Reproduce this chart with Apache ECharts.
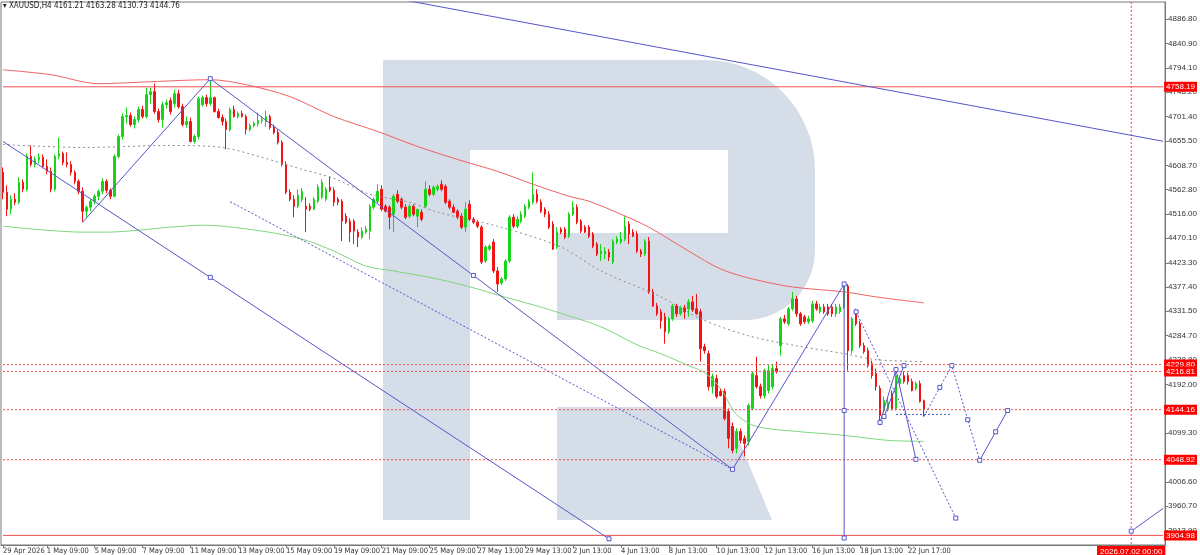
<!DOCTYPE html>
<html><head><meta charset="utf-8">
<script src="https://cdn.jsdelivr.net/npm/echarts@6/dist/echarts.min.js"></script>
<style>html,body{margin:0;padding:0;background:#fff}#c{width:1200px;height:555px}</style>
</head><body><div id="c"></div>
<script>
const symbolName = "XAUUSD,H4";
const tradingDays = ["29 Apr","30 Apr","1 May","4 May","5 May","6 May","7 May","8 May","11 May","12 May","13 May","14 May","15 May","18 May","19 May","20 May","21 May","22 May","25 May","26 May","27 May","28 May","29 May","1 Jun","2 Jun","3 Jun","4 Jun","5 Jun","8 Jun","9 Jun","10 Jun","11 Jun","12 Jun","15 Jun","16 Jun","17 Jun","18 Jun","19 Jun","22 Jun","23 Jun","24 Jun","25 Jun","26 Jun","29 Jun","30 Jun","1 Jul","2 Jul","3 Jul","6 Jul","7 Jul"];
const barHours = ["01:00","05:00","09:00","13:00","17:00","21:00"];
const shortDays = {"29 Apr":["13:00","17:00","21:00"],"25 May":["01:00","05:00","09:00","13:00","17:00"],"19 Jun":["01:00","05:00","09:00","13:00","17:00"]};
const totalSlots = 292;
const firstLabel = "29 Apr 2026";
const xTickLabels = ["1 May 09:00","5 May 09:00","7 May 09:00","11 May 09:00","13 May 09:00","15 May 09:00","19 May 09:00","21 May 09:00","25 May 09:00","27 May 13:00","29 May 13:00","2 Jun 13:00","4 Jun 13:00","8 Jun 13:00","10 Jun 13:00","12 Jun 13:00","16 Jun 13:00","18 Jun 13:00","22 Jun 17:00"];
const priceTicks = [4886.80,4840.90,4794.10,4748.20,4701.40,4655.50,4608.70,4562.80,4516.00,4470.10,4423.30,4377.40,4331.50,4284.70,4238.80,4192.00,4146.10,4099.30,4053.40,4006.60,3960.70,3913.90];
const yMin = 3886.7, yMax = 4919.5;

const opens = [4595.5,4557.6,4525.4,4544.3,4538.6,4576.5,4563.3,4625.8,4610.6,4620.1,
4623.9,4606.8,4597.4,4563.3,4625.8,4631.5,4614.4,4610.6,4595.5,4578.4,
4559.5,4521.6,4529.1,4540.5,4550.0,4559.5,4578.4,4561.4,4550.0,4625.8,
4663.7,4701.6,4703.5,4686.4,4695.9,4714.9,4701.6,4743.3,4749.0,4711.1,
4695.9,4724.3,4731.9,4726.2,4745.2,4720.5,4686.4,4692.1,4654.2,4663.7,
4724.3,4737.6,4726.2,4737.6,4711.1,4699.7,4692.1,4677.0,4714.9,4701.6,
4707.3,4701.6,4677.0,4684.5,4688.3,4694.0,4692.1,4701.6,4680.7,4671.3,
4652.3,4610.6,4557.6,4544.3,4531.0,4544.3,4531.0,4531.0,4525.4,4540.5,
4548.1,4544.3,4567.0,4561.4,4544.3,4540.5,4512.1,4502.6,4502.6,4481.8,
4472.3,4481.8,4483.7,4529.1,4540.5,4563.3,4531.0,4529.1,4515.9,4553.8,
4544.3,4529.1,4512.1,4531.0,4512.1,4519.7,4531.0,4563.3,4553.8,4563.3,
4572.7,4568.9,4540.5,4529.1,4521.6,4512.1,4491.2,4534.8,4506.4,4500.7,
4491.2,4426.8,4449.6,4462.8,4407.9,4385.1,4392.7,4426.8,4510.2,4493.1,
4502.6,4512.1,4529.1,4538.6,4553.8,4538.6,4525.4,4515.9,4496.9,4453.3,
4487.5,4487.5,4474.2,4515.9,4529.1,4502.6,4491.2,4491.2,4478.0,4459.0,
4440.1,4440.1,4443.9,4424.9,4462.8,4462.8,4468.5,4496.9,4481.8,4478.0,
4445.8,4440.1,4464.7,4368.1,4341.5,4330.2,4320.7,4292.3,4316.9,4341.5,
4326.4,4337.7,4335.9,4349.1,4335.9,4330.2,4263.8,4250.6,4188.0,4203.2,
4178.6,4178.6,4140.7,4112.2,4070.6,4102.8,4089.5,4083.8,4146.4,4208.9,
4188.0,4171.0,4180.5,4188.0,4222.2,4265.7,4316.9,4307.4,4335.9,4354.8,
4326.4,4320.7,4311.2,4313.1,4345.3,4330.2,4339.6,4339.6,4339.6,4326.4,
4330.2,4339.6,4379.4,4256.3,4330.2,4307.4,4265.7,4256.3,4231.6,4212.7,
4184.3,4142.6,4146.4,4174.8,4146.4,4193.7,4208.9,4208.9,4197.5,4184.3,
4193.7,4161.21];
const highs = [4604.9,4570.8,4551.9,4555.7,4586.0,4582.2,4631.5,4646.6,4625.8,4631.5,
4629.6,4620.1,4604.9,4629.6,4661.8,4635.3,4633.4,4616.3,4599.3,4582.2,
4567.0,4532.9,4544.3,4553.8,4563.3,4584.1,4582.2,4565.1,4629.6,4667.5,
4707.3,4718.6,4709.2,4701.6,4720.5,4722.4,4756.5,4756.5,4764.1,4716.7,
4730.0,4733.8,4737.6,4752.8,4752.8,4726.2,4701.6,4699.7,4667.5,4739.5,
4741.4,4743.3,4773.6,4739.5,4716.7,4705.4,4697.8,4718.6,4722.4,4711.1,
4713.0,4705.4,4688.3,4692.1,4709.2,4701.6,4713.0,4705.4,4686.4,4677.0,
4656.1,4616.3,4563.3,4551.9,4563.3,4565.1,4548.1,4536.7,4548.1,4572.7,
4582.2,4567.0,4587.9,4567.0,4548.1,4544.3,4517.8,4508.3,4506.4,4487.5,
4491.2,4493.1,4534.8,4548.1,4572.7,4570.8,4534.8,4532.9,4553.8,4561.4,
4548.1,4534.8,4534.8,4534.8,4525.4,4525.4,4578.4,4570.8,4570.8,4572.7,
4580.3,4572.7,4544.3,4534.8,4525.4,4517.8,4538.6,4542.4,4510.2,4504.5,
4495.0,4457.1,4459.0,4468.5,4415.4,4396.5,4430.6,4514.0,4515.9,4512.1,
4521.6,4534.8,4544.3,4595.5,4563.3,4544.3,4529.1,4521.6,4502.6,4491.2,
4491.2,4491.2,4519.7,4540.5,4534.8,4506.4,4495.0,4495.0,4481.8,4462.8,
4459.0,4453.3,4449.6,4468.5,4474.2,4481.8,4512.1,4502.6,4487.5,4483.7,
4449.6,4468.5,4472.3,4373.8,4347.2,4335.9,4328.3,4320.7,4345.3,4345.3,
4341.5,4343.4,4354.8,4360.5,4364.3,4335.9,4269.5,4256.3,4212.7,4210.8,
4184.3,4184.3,4146.4,4119.8,4108.5,4108.5,4095.2,4155.8,4216.5,4244.9,
4193.7,4222.2,4229.7,4231.6,4235.4,4320.7,4324.5,4339.6,4368.1,4360.5,
4330.2,4324.5,4322.6,4351.0,4351.0,4345.3,4345.3,4345.3,4345.3,4345.3,
4345.3,4383.2,4383.2,4320.7,4335.9,4313.1,4271.4,4261.9,4237.3,4222.2,
4189.9,4169.1,4165.3,4180.5,4216.5,4207.0,4216.5,4214.6,4203.2,4197.5,
4199.4,4163.28];
const lows = [4544.3,4512.1,4515.9,4532.9,4534.8,4557.6,4559.5,4606.8,4604.9,4612.5,
4603.0,4591.7,4557.6,4559.5,4620.1,4608.7,4604.9,4589.8,4572.7,4553.8,
4500.7,4510.2,4521.6,4534.8,4542.4,4553.8,4555.7,4544.3,4548.1,4622.0,
4658.0,4688.3,4682.6,4678.8,4690.2,4697.8,4697.8,4726.2,4707.3,4690.2,
4680.7,4716.7,4705.4,4718.6,4716.7,4682.6,4680.7,4652.3,4650.4,4658.0,
4720.5,4720.5,4722.4,4709.2,4697.8,4684.5,4639.1,4673.2,4699.7,4697.8,
4699.7,4667.5,4673.2,4680.7,4682.6,4688.3,4682.6,4677.0,4667.5,4648.5,
4606.8,4553.8,4540.5,4510.2,4527.2,4538.6,4481.8,4521.6,4523.5,4536.7,
4544.3,4540.5,4557.6,4531.0,4532.9,4464.7,4496.9,4462.8,4459.0,4453.3,
4468.5,4478.0,4468.5,4525.4,4536.7,4521.6,4519.7,4487.5,4481.8,4536.7,
4525.4,4506.4,4508.3,4512.1,4491.2,4502.6,4527.2,4550.0,4550.0,4559.5,
4559.5,4534.8,4525.4,4517.8,4506.4,4487.5,4481.8,4502.6,4496.9,4489.3,
4421.1,4423.0,4445.8,4404.1,4368.1,4381.3,4388.9,4423.0,4489.3,4489.3,
4498.8,4508.3,4525.4,4534.8,4536.7,4517.8,4510.2,4487.5,4447.7,4449.6,
4478.0,4468.5,4470.4,4512.1,4496.9,4479.9,4479.9,4470.4,4451.4,4436.3,
4426.8,4430.6,4426.8,4421.1,4459.0,4459.0,4464.7,4459.0,4472.3,4442.0,
4434.4,4436.3,4364.3,4339.6,4322.6,4298.0,4269.5,4288.5,4313.1,4320.7,
4322.6,4316.9,4320.7,4330.2,4324.5,4235.4,4250.6,4180.5,4174.8,4165.3,
4169.1,4123.6,4070.6,4061.1,4061.1,4080.0,4055.4,4076.2,4142.6,4184.3,
4165.3,4165.3,4174.8,4182.4,4212.7,4246.8,4307.4,4303.6,4332.1,4320.7,
4303.6,4307.4,4307.4,4309.3,4332.1,4326.4,4326.4,4322.6,4320.7,4320.7,
4326.4,4335.9,4218.4,4250.6,4303.6,4261.9,4250.6,4224.0,4203.2,4180.5,
4121.7,4138.8,4140.7,4142.6,4142.6,4188.0,4193.7,4191.8,4178.6,4180.5,
4157.7,4130.73];
const closes = [4557.6,4525.4,4544.3,4538.6,4576.5,4563.3,4625.8,4610.6,4620.1,4623.9,
4606.8,4597.4,4563.3,4625.8,4631.5,4614.4,4610.6,4595.5,4578.4,4559.5,
4521.6,4529.1,4540.5,4550.0,4559.5,4578.4,4561.4,4550.0,4625.8,4663.7,
4701.6,4703.5,4686.4,4695.9,4714.9,4701.6,4743.3,4749.0,4711.1,4695.9,
4724.3,4728.1,4711.1,4745.2,4720.5,4686.4,4692.1,4654.2,4663.7,4735.7,
4737.6,4726.2,4737.6,4711.1,4699.7,4692.1,4677.0,4714.9,4701.6,4707.3,
4701.6,4677.0,4684.5,4688.3,4694.0,4695.9,4701.6,4680.7,4671.3,4652.3,
4610.6,4557.6,4544.3,4531.0,4551.9,4559.5,4525.4,4525.4,4544.3,4567.0,
4576.5,4563.3,4561.4,4538.6,4538.6,4502.6,4500.7,4481.8,4483.7,4472.3,
4483.7,4487.5,4531.0,4544.3,4559.5,4525.4,4521.6,4510.2,4550.0,4540.5,
4529.1,4510.2,4531.0,4515.9,4525.4,4506.4,4563.3,4553.8,4567.0,4568.9,
4563.3,4538.6,4529.1,4519.7,4510.2,4491.2,4525.4,4506.4,4500.7,4493.1,
4424.9,4453.3,4455.2,4407.9,4383.2,4392.7,4426.8,4510.2,4493.1,4506.4,
4515.9,4531.0,4540.5,4553.8,4540.5,4521.6,4515.9,4491.2,4449.6,4481.8,
4481.8,4472.3,4515.9,4529.1,4500.7,4483.7,4481.8,4474.2,4455.2,4440.1,
4445.8,4445.8,4434.4,4464.7,4468.5,4468.5,4493.1,4478.0,4474.2,4445.8,
4440.1,4464.7,4368.1,4341.5,4326.4,4313.1,4292.3,4316.9,4341.5,4326.4,
4337.7,4330.2,4349.1,4334.0,4326.4,4260.1,4256.3,4188.0,4207.0,4169.1,
4171.0,4127.4,4089.5,4066.8,4102.8,4085.7,4080.0,4152.0,4212.7,4188.0,
4171.0,4218.4,4218.4,4222.2,4216.5,4316.9,4311.2,4335.9,4354.8,4326.4,
4307.4,4311.2,4316.9,4345.3,4335.9,4339.6,4330.2,4326.4,4326.4,4339.6,
4339.6,4379.4,4256.3,4316.9,4307.4,4265.7,4254.4,4227.8,4208.9,4188.0,
4133.1,4161.5,4157.7,4146.4,4208.9,4203.2,4197.5,4197.5,4180.5,4193.7,
4159.6,4144.76];

// moving averages: [bar index, price]
const maRed = [[0,4790.6],[12,4781.2],[24,4764.1],[37,4767.9],[52,4771.7],[61,4762.2],[72,4739.5],[83,4701.6],[94,4673.2],[104,4644.7],[114,4620.1],[124,4597.4],[133,4572.7],[142,4550.0],[147,4540.5],[155,4515.9],[162,4491.2],[172,4445.8],[180,4411.7],[188,4392.7],[198,4377.5],[211,4368.1],[219,4358.6],[231,4347.2]];
const maGray = [[0,4648.5],[20,4642.8],[42,4646.6],[55,4642.8],[65,4623.9],[75,4601.2],[83,4584.1],[92,4553.8],[102,4538.6],[109,4519.7],[124,4493.1],[140,4453.3],[150,4407.9],[165,4358.6],[175,4316.9],[187,4284.7],[199,4265.7],[211,4250.6],[219,4239.2],[231,4235.4]];
const maGreen = [[0,4493.1],[20,4481.8],[26,4481.8],[42,4491.2],[50,4495.0],[65,4483.7],[75,4468.5],[83,4445.8],[91,4417.3],[98,4407.9],[109,4392.7],[119,4373.8],[124,4362.4],[133,4343.4],[138,4332.1],[150,4301.7],[159,4267.6],[165,4250.6],[172,4227.8],[176,4214.6],[180,4184.3],[184,4135.0],[189,4112.2],[199,4102.8],[211,4095.2],[222,4085.7],[231,4083.8]];

// drawn objects: [bar index, price]
const trendTop = [[100,4924.1],[291,4654.6]];
const trendChannel = [[0,4654.2],[152,3898.5]];
const trendLeg1 = [[20,4500.7],[52,4773.6]];
const trendLeg2 = [[52,4773.6],[183,4030.7]];
const trendLeg3 = [[183,4030.7],[211,4383.2]];
const trendDotted = [[57,4539.6],[183,4030.7]];
const trendVertical = [[211,4383.2],[211,3900.0]];
const fcDotted1 = [[214,4330.2],[239,3937.9]];
const fcA = [[220,4119.8],[224,4220.3]];
const fcB = [[221,4131.2],[226,4227.8]];
const fcC = [[224,4220.3],[229,4049.7]];
const fcFlat = [[224,4135.0],[238,4135.0]];
const fcPath = [[231,4131.2],[238,4227.8],[245,4047.8]];
const fcUp = [[245,4047.8],[252,4142.6]];
const trendBottomRight = [[283,3913.0],[291,3956.2]];
const anchorPoints = [[52,4773.6],[118,4399.4],[52,4395.8],[152,3898.5],[183,4030.7],[211,4383.2],[211,4142.6],[211,3900.0],[214,4330.2],[239,3937.9],[220,4119.8],[221,4131.2],[224,4220.3],[226,4227.8],[229,4049.7],[238,4227.8],[245,4047.8],[252,4142.6],[235,4186.4],[242,4125.0],[249,4102.0],[283,3913.0]];

const solidLevels = [4758.19, 3904.98];
const dottedLevels = [4229.80, 4216.81, 4144.16, 4048.92];
const cursorIndex = 283;
const cursorLabel = "2026.07.02 00:00";

// ---------- build ----------
const categories = [];
for (const d of tradingDays) {
  const hrs = shortDays[d] || barHours;
  for (const h of hrs) categories.push(d + " " + h);
}
categories.length = Math.min(categories.length, totalSlots);
const lastSlot = categories.length - 1;
const tickSet = new Set(xTickLabels);
const tickFn = (idx, val) => idx === 0 || tickSet.has(val);
const candleData = opens.map((o, i) => [o, closes[i], lows[i], highs[i]]);
const last = opens.length - 1;

const FONT = "Liberation Sans, Arial, sans-serif";
const NARROW = "Liberation Sans Narrow, DejaVu Sans Condensed, Liberation Sans, sans-serif";
const BLUE = "#5555cc";
const LEVEL_RED = "#f25050";
const BOX_RED = "#ff0000";
const logoColor = "#d5dde8";

function lineSeries(data, color, type, z) {
  return {type: "line", data: data, showSymbol: false, symbol: "none", smooth: false, color: color,
    lineStyle: {color: color, width: 1, type: type}, z: z || 4, silent: true, animation: false};
}
const boxLabel = {show: true, backgroundColor: BOX_RED, color: "#fff", fontSize: 8, fontFamily: FONT,
  padding: [1, 2, 0, 2], lineHeight: 9, opacity: 1};

const levelLineSeries = [];
solidLevels.forEach(v => levelLineSeries.push(lineSeries([[0, v], [lastSlot, v]], LEVEL_RED, "solid", 3)));
dottedLevels.forEach(v => levelLineSeries.push(lineSeries([[0, v], [lastSlot, v]], LEVEL_RED, [2, 2], 3)));
levelLineSeries.push(lineSeries([[cursorIndex, yMax], [cursorIndex, yMin]], LEVEL_RED, [2, 2], 3));

const levelLabelSeries = {type: "scatter", symbolSize: 0, silent: true, animation: false, z: 6, clip: false,
  itemStyle: {opacity: 1}, emphasis: {disabled: true},
  data: solidLevels.concat(dottedLevels).map(v => [lastSlot, v]),
  label: Object.assign({}, boxLabel, {position: "right", distance: 1, formatter: p => p.value[1].toFixed(2)})};
const cursorLabelSeries = {type: "scatter", symbolSize: 0, silent: true, animation: false, z: 6, clip: false,
  itemStyle: {opacity: 1}, emphasis: {disabled: true},
  data: [[cursorIndex, yMin]],
  label: Object.assign({}, boxLabel, {position: "bottom", distance: 1, padding: [1, 3, 0, 3], formatter: cursorLabel})};

const series = [
  {type: "candlestick", data: candleData, barWidth: 2,
    itemStyle: {color: "#18d418", color0: "#f01414", borderColor: "#18d418", borderColor0: "#f01414", borderWidth: 1},
    z: 2, animation: false}
].concat(levelLineSeries, [
  Object.assign(lineSeries(maRed, "#f06262", "solid", 3), {smooth: 0.3}),
  Object.assign(lineSeries(maGray, "#8c8c8c", [2, 3], 3), {smooth: 0.3}),
  Object.assign(lineSeries(maGreen, "#7ed67e", "solid", 3), {smooth: 0.3}),
  lineSeries(trendTop, BLUE, "solid"),
  lineSeries(trendChannel, BLUE, "solid"),
  lineSeries(trendLeg1, BLUE, "solid"),
  lineSeries(trendLeg2, BLUE, "solid"),
  lineSeries(trendLeg3, BLUE, "solid"),
  lineSeries(trendDotted, BLUE, [2, 2]),
  lineSeries(trendVertical, BLUE, "solid"),
  lineSeries(fcDotted1, BLUE, [2, 2]),
  lineSeries(fcA, BLUE, "solid"),
  lineSeries(fcB, BLUE, "solid"),
  lineSeries(fcC, BLUE, "solid"),
  lineSeries(fcFlat, BLUE, [2, 2]),
  lineSeries(fcPath, BLUE, [2, 2]),
  lineSeries(fcUp, BLUE, "solid"),
  lineSeries(trendBottomRight, BLUE, "solid"),
  {type: "scatter", data: anchorPoints, symbol: "rect", symbolSize: 4,
    itemStyle: {color: "#fff", borderColor: BLUE, borderWidth: 1, opacity: 1}, z: 5, silent: true, animation: false},
  levelLabelSeries,
  cursorLabelSeries
]);

const chart = echarts.init(document.getElementById("c"), null, {renderer: "canvas"});
chart.setOption({
  animation: false,
  backgroundColor: "#fff",
  title: {text: "\u25BE " + symbolName + " " + [opens[last], highs[last], lows[last], closes[last]].map(v => v.toFixed(2)).join(" "),
    left: 3, top: 2, padding: 0, textStyle: {fontSize: 8, fontWeight: "normal", color: "#222", fontFamily: NARROW}},
  grid: {left: 1, right: 32, top: 2, bottom: 8, show: true, borderColor: "#777", borderWidth: 1, backgroundColor: "transparent"},
  graphic: {elements: [
    {type: "rect", silent: true, z: 0, z2: 0, shape: {x: 383, y: 60, width: 87, height: 460}, style: {fill: logoColor}},
    {type: "rect", silent: true, z: 0, z2: 0, shape: {x: 470, y: 60, width: 345, height: 260, r: [0, 110, 70, 0]}, style: {fill: logoColor}},
    {type: "rect", silent: true, z: 0, z2: 1, shape: {x: 470, y: 150, width: 258, height: 83}, style: {fill: "#fff"}},
    {type: "rect", silent: true, z: 0, z2: 1, shape: {x: 470, y: 233, width: 87, height: 87}, style: {fill: "#fff"}},
    {type: "polygon", silent: true, z: 0, z2: 0, shape: {points: [[557, 407], [725, 407], [772, 520], [557, 520]]}, style: {fill: logoColor}}
  ]},
  xAxis: {type: "category", data: categories, boundaryGap: true,
    axisLine: {show: true, lineStyle: {color: "#777"}},
    axisTick: {show: true, alignWithLabel: true, interval: tickFn, length: 3, lineStyle: {color: "#777"}},
    axisLabel: {interval: tickFn, formatter: (v, i) => i === 0 ? firstLabel : v, align: "left",
      fontSize: 7.5, color: "#333", fontFamily: NARROW, margin: 2},
    splitLine: {show: false}},
  yAxis: {type: "value", position: "right", min: yMin, max: yMax, scale: true,
    axisLine: {show: true, lineStyle: {color: "#777"}},
    axisTick: {show: true, length: 3, customValues: priceTicks, lineStyle: {color: "#777"}},
    axisLabel: {customValues: priceTicks, formatter: v => v.toFixed(2), fontSize: 8, color: "#333", fontFamily: FONT, margin: 3},
    splitLine: {show: false}},
  series: series
});
</script></body></html>
